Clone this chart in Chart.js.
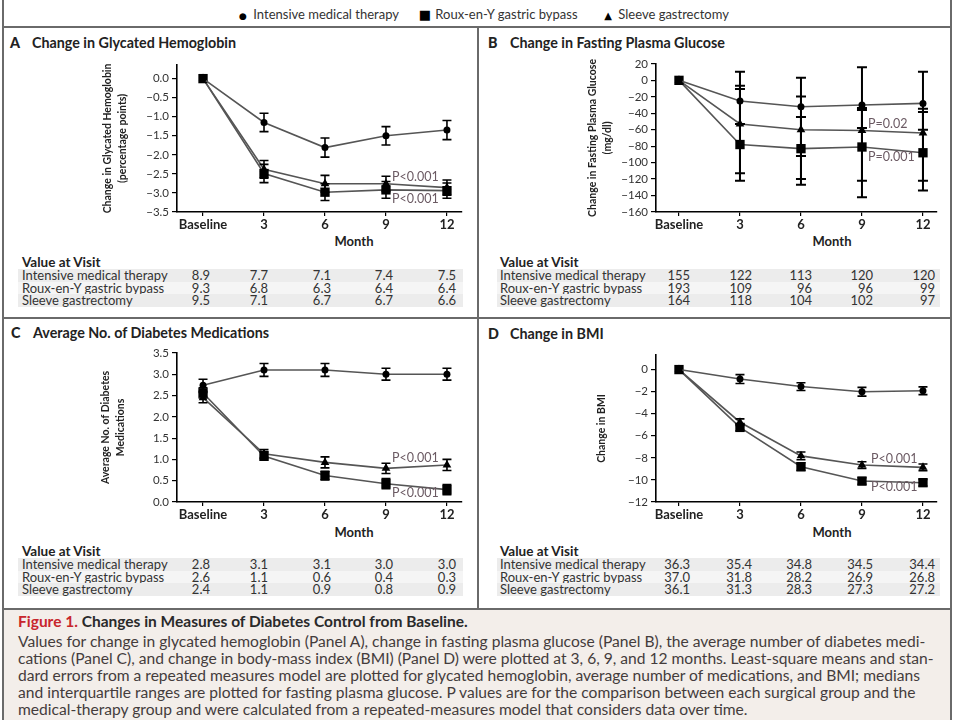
<!DOCTYPE html>
<html>
<head>
<meta charset="utf-8">
<script src="https://cdn.jsdelivr.net/npm/chart.js@4.4.1/dist/chart.umd.min.js"></script>
<style>
  html, body { margin: 0; padding: 0; background: #fff; }
  body { width: 960px; height: 720px; position: relative; overflow: hidden; font-family: Lato, "Noto Sans", sans-serif; color: #333; }
  .line { position: absolute; background: #6a6a6a; }
  canvas.chart { position: absolute; }
  .ptitle { position: absolute; font-weight: bold; font-size: 14.3px; color: #222; white-space: nowrap; line-height: 16px; }
  .ptitle b { display: inline-block; width: 22px; }
  .legend { position: absolute; top: 6px; font-size: 13px; color: #333; white-space: nowrap; line-height: 16px; }
  .month { position: absolute; font-weight: bold; font-size: 13px; color: #222; line-height: 14px; transform: translateX(-50%); }
  .vav { position: absolute; font-weight: bold; font-size: 13.5px; color: #222; line-height: 14px; }
  .row { position: absolute; height: 12.5px; }
  .row span { position: absolute; top: -1px; font-size: 13px; line-height: 14px; color: #333; white-space: nowrap; }
  .caption { position: absolute; left: 4px; top: 610px; width: 946px; height: 110px; background: #f3eeea; }
  .caption .t { position: absolute; left: 14px; top: 2px; font-size: 15.5px; line-height: 18px; font-weight: bold; color: #2a2a2a; white-space: nowrap; }
  .caption .t .fig { color: #c8262d; }
  .caption .body { position: absolute; left: 14px; top: 23px; font-size: 15.6px; line-height: 17px; color: #443c3c; white-space: nowrap; }
</style>
</head>
<body>
<div class="line" style="left:2px;top:0;width:2px;height:720px;"></div>
<div class="line" style="left:950px;top:0;width:2px;height:720px;"></div>
<div class="line" style="left:2px;top:26px;width:950px;height:2px;"></div>
<div class="line" style="left:2px;top:317px;width:950px;height:2px;"></div>
<div class="line" style="left:2px;top:608px;width:950px;height:2px;"></div>
<div class="line" style="left:477px;top:27px;width:2px;height:582px;"></div>

<div id="legend"></div>
<div id="titles"></div>
<div id="tables"></div>

<canvas id="cA" class="chart" width="380" height="195" style="left:90px;top:55px;"></canvas>
<canvas id="cB" class="chart" width="377" height="196" style="left:568px;top:54px;"></canvas>
<canvas id="cC" class="chart" width="380" height="197" style="left:90px;top:343px;"></canvas>
<canvas id="cD" class="chart" width="377" height="195" style="left:568px;top:345px;"></canvas>

<div class="caption">
  <div class="t"><span class="fig">Figure 1.</span> Changes in Measures of Diabetes Control from Baseline.</div>
  <div class="body">
    Values for change in glycated hemoglobin (Panel A), change in fasting plasma glucose (Panel B), the average number of diabetes medi-<br>
    cations (Panel C), and change in body-mass index (BMI) (Panel D) were plotted at 3, 6, 9, and 12 months. Least-square means and stan-<br>
    dard errors from a repeated measures model are plotted for glycated hemoglobin, average number of medications, and BMI; medians<br>
    and interquartile ranges are plotted for fasting plasma glucose. P values are for the comparison between each surgical group and the<br>
    medical-therapy group and were calculated from a repeated-measures model that considers data over time.
  </div>
</div>

<script>
// ---------------- DATA ----------------
const months = [0, 3, 6, 9, 12];
const monthLabels = ['Baseline', '3', '6', '9', '12'];
const groupNames = ['Intensive medical therapy', 'Roux-en-Y gastric bypass', 'Sleeve gastrectomy'];

// Panel A: change in glycated hemoglobin (percentage points), mean ± SE
const hba1cIMT  = [0, -1.15, -1.81, -1.50, -1.35];
const hba1cRYGB = [0, -2.49, -2.98, -2.92, -2.94];
const hba1cSG   = [0, -2.38, -2.76, -2.76, -2.86];
const hba1cErrIMT  = [0, 0.24, 0.25, 0.24, 0.25];
const hba1cErrRYGB = [0, 0.24, 0.22, 0.22, 0.20];
const hba1cErrSG   = [0, 0.23, 0.22, 0.20, 0.20];
const ticksA = [0, -0.5, -1.0, -1.5, -2.0, -2.5, -3.0, -3.5];

// Panel B: change in fasting plasma glucose (mg/dl), median + IQR
const fpgIMT  = [0, -25, -32, -30, -28];
const fpgRYGB = [0, -78, -83, -81, -88];
const fpgSG   = [0, -53, -60, -61, -64];
const fpgHiIMT  = [0, 10.5, 3.3, 16, 10.5];
const fpgLoIMT  = [0, -53, -92, -58, -60];
const fpgHiRYGB = [0, -10.6, -44.4, -36, -38.4];
const fpgLoRYGB = [0, -122, -127, -142, -134];
const fpgHiSG   = [0, -6.6, -19.7, -33.6, -34.4];
const fpgLoSG   = [0, -113, -120, -122, -122];
const ticksB = [20, 0, -20, -40, -60, -80, -100, -120, -140, -160];

// Panel C: average number of diabetes medications, mean ± SE
const medsIMT  = [2.74, 3.10, 3.10, 3.00, 3.00];
const medsRYGB = [2.56, 1.08, 0.62, 0.43, 0.29];
const medsSG   = [2.45, 1.13, 0.93, 0.79, 0.87];
const medsErrIMT  = [0.14, 0.15, 0.15, 0.14, 0.14];
const medsErrRYGB = [0.12, 0.10, 0.10, 0.12, 0.12];
const medsErrSG   = [0.12, 0.10, 0.13, 0.12, 0.13];
const ticksC = [0, 0.5, 1.0, 1.5, 2.0, 2.5, 3.0, 3.5];

// Panel D: change in BMI, mean ± SE
const bmiIMT  = [0, -0.86, -1.54, -2.01, -1.92];
const bmiRYGB = [0, -5.24, -8.80, -10.10, -10.25];
const bmiSG   = [0, -4.77, -7.82, -8.65, -8.86];
const bmiErrIMT  = [0, 0.40, 0.35, 0.40, 0.35];
const bmiErrRYGB = [0, 0.30, 0.35, 0.30, 0.30];
const bmiErrSG   = [0, 0.30, 0.35, 0.30, 0.30];
const ticksD = [0, -2, -4, -6, -8, -10, -12];

// Value-at-visit tables
const visitA = { IMT: [8.9, 7.7, 7.1, 7.4, 7.5], RYGB: [9.3, 6.8, 6.3, 6.4, 6.4], SG: [9.5, 7.1, 6.7, 6.7, 6.6] };
const visitB = { IMT: [155, 122, 113, 120, 120], RYGB: [193, 109, 96, 96, 99], SG: [164, 118, 104, 102, 97] };
const visitC = { IMT: [2.8, 3.1, 3.1, 3.0, 3.0], RYGB: [2.6, 1.1, 0.6, 0.4, 0.3], SG: [2.4, 1.1, 0.9, 0.8, 0.9] };
const visitD = { IMT: [36.3, 35.4, 34.8, 34.5, 34.4], RYGB: [37.0, 31.8, 28.2, 26.9, 26.8], SG: [36.1, 31.3, 28.3, 27.3, 27.2] };

// ---------------- HELPERS ----------------
const minus = '\u2212';
function fmt(v, d) { return (v < 0 ? minus : '') + Math.abs(v).toFixed(d); }
function pts(arr) { return months.map((m, i) => ({ x: m, y: arr[i] })); }
function plus(a, e) { return a.map((v, i) => v + e[i]); }
function sub(a, e) { return a.map((v, i) => v - e[i]); }

const errorBars = {
  id: 'errorBars',
  afterDatasetsDraw(chart, args, opts) {
    const ctx = chart.ctx, xs = chart.scales.x, ys = chart.scales.y;
    const c = opts.cap || 4.5;
    ctx.save();
    ctx.strokeStyle = '#000';
    ctx.lineWidth = opts.width || 1.6;
    chart.data.datasets.forEach(ds => {
      if (!ds.lo) return;
      ds.data.forEach((p, i) => {
        const lo = ds.lo[i], hi = ds.hi[i];
        if (Math.abs(hi - lo) < 1e-9) return;
        const x = xs.getPixelForValue(p.x);
        const y1 = ys.getPixelForValue(lo), y2 = ys.getPixelForValue(hi);
        ctx.beginPath();
        ctx.moveTo(x, y1); ctx.lineTo(x, y2);
        ctx.moveTo(x - c, y1); ctx.lineTo(x + c, y1);
        ctx.moveTo(x - c, y2); ctx.lineTo(x + c, y2);
        ctx.stroke();
      });
    });
    ctx.restore();
  }
};

const pLabels = {
  id: 'pLabels',
  afterDatasetsDraw(chart, args, opts) {
    if (!opts.items) return;
    const ctx = chart.ctx, xs = chart.scales.x, ys = chart.scales.y;
    ctx.save();
    ctx.font = '12.5px Lato, sans-serif';
    ctx.fillStyle = '#6b5a63';
    ctx.textAlign = 'left';
    ctx.textBaseline = 'middle';
    opts.items.forEach(it => {
      ctx.fillText(it.text, xs.getPixelForValue(it.x), ys.getPixelForValue(it.y));
    });
    ctx.restore();
  }
};

function makeDatasets(imt, rygb, sg, lims) {
  const base = { borderColor: '#555', borderWidth: 1.6, backgroundColor: '#000', pointBorderColor: '#000', pointBorderWidth: 0, tension: 0, clip: false };
  return [
    Object.assign({}, base, { label: groupNames[0], data: pts(imt), pointStyle: 'circle', pointRadius: 3.5, lo: lims[0][0], hi: lims[0][1] }),
    Object.assign({}, base, { label: groupNames[1], data: pts(rygb), pointStyle: 'rect', pointRadius: 6.6, lo: lims[1][0], hi: lims[1][1] }),
    Object.assign({}, base, { label: groupNames[2], data: pts(sg), pointStyle: 'triangle', pointRadius: 5, lo: lims[2][0], hi: lims[2][1] })
  ];
}

function makeChart(id, cfg) {
  return new Chart(document.getElementById(id), {
    type: 'line',
    data: { datasets: cfg.datasets },
    plugins: [errorBars, pLabels],
    options: {
      responsive: false,
      animation: false,
      devicePixelRatio: 1,
      layout: { padding: { top: 7, right: 8, left: 0, bottom: 0 } },
      plugins: {
        legend: { display: false },
        tooltip: { enabled: false },
        errorBars: { cap: cfg.cap, width: cfg.errWidth },
        pLabels: { items: cfg.pItems }
      },
      scales: {
        x: {
          type: 'linear',
          min: cfg.xMin, max: cfg.xMax,
          afterBuildTicks: s => { s.ticks = months.map(v => ({ value: v })); },
          afterFit: s => { s.height = 38; },
          ticks: {
            autoSkip: false, maxRotation: 0, padding: 1,
            color: '#222', font: { size: 13, weight: 'bold' },
            callback: (v, i) => monthLabels[i]
          },
          grid: { drawOnChartArea: false, drawTicks: true, tickLength: 4, color: '#000', lineWidth: 1.2 },
          border: { display: true, color: '#000', width: 1.6 }
        },
        y: {
          type: 'linear',
          min: cfg.yMin, max: cfg.yMax,
          afterBuildTicks: s => { s.ticks = cfg.yTicks.slice().sort((a, b) => a - b).map(v => ({ value: v })); },
          afterFit: s => { s.width = cfg.yWidth; },
          ticks: {
            autoSkip: false,
            padding: 3, color: '#333', font: { size: 11.5 },
            callback: v => fmt(v, cfg.dec)
          },
          grid: { drawOnChartArea: false, drawTicks: true, tickLength: 5, color: '#000', lineWidth: 1.2 },
          border: { display: true, color: '#000', width: 1.6 },
          title: {
            display: true, text: cfg.yTitle, color: '#222',
            font: { size: 10.5, weight: 'bold', lineHeight: 1.35 },
            padding: { top: cfg.titlePad, bottom: 0 }
          }
        }
      }
    }
  });
}

Chart.defaults.font.family = 'Lato, "Noto Sans", sans-serif';

makeChart('cA', {
  datasets: makeDatasets(hba1cIMT, hba1cRYGB, hba1cSG, [
    [sub(hba1cIMT, hba1cErrIMT), plus(hba1cIMT, hba1cErrIMT)],
    [sub(hba1cRYGB, hba1cErrRYGB), plus(hba1cRYGB, hba1cErrRYGB)],
    [sub(hba1cSG, hba1cErrSG), plus(hba1cSG, hba1cErrSG)]
  ]),
  xMin: -1.28, xMax: 12.74, yMin: -3.5, yMax: 0.36, yTicks: ticksA, dec: 1, yWidth: 87,
  yTitle: ['Change in Glycated Hemoglobin', '(percentage points)'], titlePad: 11,
  cap: 4.5, errWidth: 1.6,
  pItems: [{ text: 'P<0.001', x: 9.3, y: -2.57 }, { text: 'P<0.001', x: 9.3, y: -3.17 }]
});

makeChart('cB', {
  datasets: makeDatasets(fpgIMT, fpgRYGB, fpgSG, [
    [fpgLoIMT, fpgHiIMT], [fpgLoRYGB, fpgHiRYGB], [fpgLoSG, fpgHiSG]
  ]),
  xMin: -1.13, xMax: 12.69, yMin: -160, yMax: 20, yTicks: ticksB, dec: 0, yWidth: 88,
  yTitle: ['Change in Fasting Plasma Glucose', '(mg/dl)'], titlePad: 18,
  cap: 5, errWidth: 2,
  pItems: [{ text: 'P=0.02', x: 9.3, y: -53.5 }, { text: 'P=0.001', x: 9.3, y: -92.9 }]
});

makeChart('cC', {
  datasets: makeDatasets(medsIMT, medsRYGB, medsSG, [
    [sub(medsIMT, medsErrIMT), plus(medsIMT, medsErrIMT)],
    [sub(medsRYGB, medsErrRYGB), plus(medsRYGB, medsErrRYGB)],
    [sub(medsSG, medsErrSG), plus(medsSG, medsErrSG)]
  ]),
  xMin: -1.28, xMax: 12.74, yMin: 0, yMax: 3.5, yTicks: ticksC, dec: 1, yWidth: 87,
  yTitle: ['Average No. of Diabetes', 'Medications'], titlePad: 9,
  cap: 4.5, errWidth: 1.6,
  pItems: [{ text: 'P<0.001', x: 9.3, y: 1.04 }, { text: 'P<0.001', x: 9.3, y: 0.21 }]
});

makeChart('cD', {
  datasets: makeDatasets(bmiIMT, bmiRYGB, bmiSG, [
    [sub(bmiIMT, bmiErrIMT), plus(bmiIMT, bmiErrIMT)],
    [sub(bmiRYGB, bmiErrRYGB), plus(bmiRYGB, bmiErrRYGB)],
    [sub(bmiSG, bmiErrSG), plus(bmiSG, bmiErrSG)]
  ]),
  xMin: -1.13, xMax: 12.69, yMin: -12, yMax: 1.33, yTicks: ticksD, dec: 0, yWidth: 88,
  yTitle: 'Change in BMI', titlePad: 27,
  cap: 4.5, errWidth: 1.6,
  pItems: [{ text: 'P<0.001', x: 9.44, y: -8.06 }, { text: 'P<0.001', x: 9.44, y: -10.64 }]
});

// ---------------- HTML text: legend, titles, tables ----------------
const legendEl = document.getElementById('legend');
const legendItems = [
  { sym: '\u25CF', size: 9, left: 236 },
  { sym: '\u25A0', size: 13, left: 418 },
  { sym: '\u25B2', size: 10, left: 601 }
];
legendItems.forEach((it, i) => {
  const d = document.createElement('div');
  d.className = 'legend';
  d.style.left = it.left + 'px';
  d.innerHTML = '<span style="font-family:\'DejaVu Sans\';font-size:' + it.size + 'px;color:#000;display:inline-block;width:14px;text-align:center;">' + it.sym + '</span> ' + groupNames[i];
  legendEl.appendChild(d);
});

const titles = [
  { letter: 'A', text: 'Change in Glycated Hemoglobin', left: 10, top: 35 },
  { letter: 'B', text: 'Change in Fasting Plasma Glucose', left: 488, top: 35 },
  { letter: 'C', text: 'Average No. of Diabetes Medications', left: 11, top: 325 },
  { letter: 'D', text: 'Change in BMI', left: 488, top: 326 }
];
const titlesEl = document.getElementById('titles');
titles.forEach(t => {
  const d = document.createElement('div');
  d.className = 'ptitle';
  d.style.left = t.left + 'px';
  d.style.top = t.top + 'px';
  d.innerHTML = '<b>' + t.letter + '</b>' + t.text;
  titlesEl.appendChild(d);
});

const tablesEl = document.getElementById('tables');
function makeTable(vals, dec, opt) {
  const m = document.createElement('div');
  m.className = 'month'; m.textContent = 'Month';
  m.style.left = opt.monthX + 'px'; m.style.top = (opt.monthY - 7) + 'px';
  tablesEl.appendChild(m);
  const v = document.createElement('div');
  v.className = 'vav'; v.textContent = 'Value at Visit';
  v.style.left = opt.textX + 'px'; v.style.top = (opt.vavY - 7) + 'px';
  tablesEl.appendChild(v);
  const keys = ['IMT', 'RYGB', 'SG'];
  const shades = ['#ececec', '#f5f5f5', '#ececec'];
  keys.forEach((k, r) => {
    const row = document.createElement('div');
    row.className = 'row';
    row.style.left = opt.bgLeft + 'px';
    row.style.width = opt.bgWidth + 'px';
    row.style.top = (opt.rowTop + r * 12.5) + 'px';
    row.style.background = shades[r];
    let html = '<span style="left:' + (opt.textX - opt.bgLeft) + 'px">' + groupNames[r] + '</span>';
    vals[k].forEach((val, c) => {
      html += '<span style="right:' + (opt.bgLeft + opt.bgWidth - opt.rights[c]) + 'px">' + val.toFixed(dec) + '</span>';
    });
    row.innerHTML = html;
    tablesEl.appendChild(row);
  });
}
const leftRights = [210, 268, 331, 393, 456];
const rightRights = [690, 752, 812, 873, 935];
makeTable(visitA, 1, { monthX: 354, monthY: 241, vavY: 262, textX: 22, bgLeft: 18, bgWidth: 445, rowTop: 269, rights: leftRights });
makeTable(visitB, 0, { monthX: 832, monthY: 241, vavY: 262, textX: 500, bgLeft: 497, bgWidth: 443, rowTop: 269, rights: rightRights });
makeTable(visitC, 1, { monthX: 354, monthY: 532, vavY: 551, textX: 22, bgLeft: 18, bgWidth: 445, rowTop: 558, rights: leftRights });
makeTable(visitD, 1, { monthX: 832, monthY: 532, vavY: 551, textX: 500, bgLeft: 497, bgWidth: 443, rowTop: 558, rights: rightRights });
</script>
</body>
</html>
